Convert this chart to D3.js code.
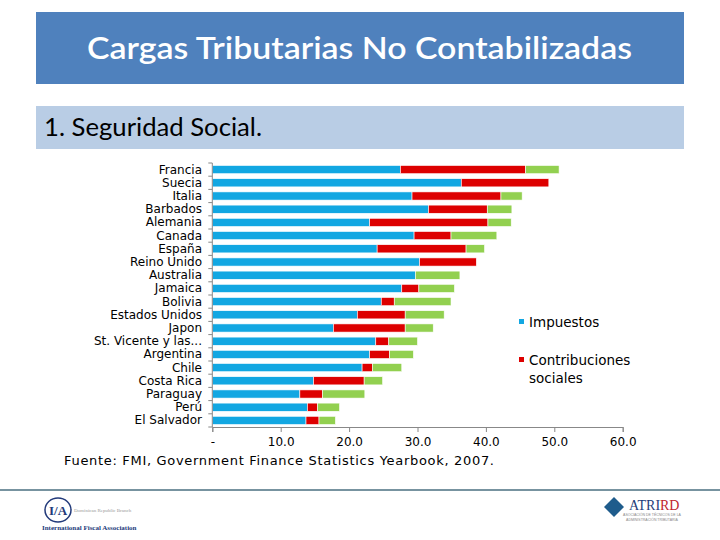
<!DOCTYPE html>
<html><head><meta charset="utf-8">
<script src="https://cdn.jsdelivr.net/npm/d3@7"></script>
<style>body{margin:0;background:#fff}svg{display:block}</style>
</head><body>
<script>
const categories = ["Francia","Suecia","Italia","Barbados","Alemania","Canada","España","Reino Unido","Australia","Jamaica","Bolivia","Estados Unidos","Japon","St. Vicente y las...","Argentina","Chile","Costa Rica","Paraguay","Perú","El Salvador"];
const impuestos =      [27.5,36.4,29.2,31.6,23.0,29.5,24.1,30.3,29.7,27.7,24.7,21.2,17.7,23.9,23.0,21.9,14.8,12.8,13.9,13.7];
const contribuciones = [18.3,12.8,13.0, 8.6,17.3, 5.4,13.0, 8.3, 0.0, 2.5, 1.9, 7.0,10.5, 1.9, 2.9, 1.5, 7.4, 3.3, 1.5, 1.9];
const otros =          [ 4.9, 0.0, 3.1, 3.6, 3.4, 6.7, 2.7, 0.0, 6.5, 5.2, 8.3, 5.7, 4.1, 4.2, 3.5, 4.3, 2.7, 6.2, 3.2, 2.4];
const xTicks = [0,10,20,30,40,50,60];
const seriesNames = ["Impuestos","Contribuciones sociales","Otros"];
const colors = ["#12a7e2","#dd0000","#92d050"];

const W=720,H=540;
const svg=d3.select("body").append("svg").attr("width",W).attr("height",H);
const font="DejaVu Sans, Verdana, sans-serif";

// header boxes
svg.append("rect").attr("x",36).attr("y",12).attr("width",648).attr("height",72).attr("fill","#4f81bd");
svg.append("text").attr("x",87).attr("y",59).attr("fill","#fff")
  .attr("font-family","Lato, 'Open Sans', sans-serif").attr("font-size",30).attr("font-weight",600)
  .attr("textLength",545).attr("lengthAdjust","spacingAndGlyphs")
  .text("Cargas Tributarias No Contabilizadas");
svg.append("rect").attr("x",36).attr("y",106).attr("width",648).attr("height",43).attr("fill","#b9cde5");
svg.append("text").attr("x",44).attr("y",136).attr("fill","#000")
  .attr("font-family","Lato, 'Open Sans', sans-serif").attr("font-size",25)
  .attr("textLength",218).attr("lengthAdjust","spacingAndGlyphs")
  .text("1. Seguridad Social.");

// scales
const x=d3.scaleLinear().domain([0,60]).range([212.3,622.7]);
const y=d3.scaleBand().domain(categories).range([163,427]).paddingInner(0.38).paddingOuter(0.19);

const data=categories.map((c,i)=>({cat:c,Impuestos:impuestos[i],"Contribuciones sociales":contribuciones[i],Otros:otros[i]}));
const stack=d3.stack().keys(seriesNames)(data);

const g=svg.append("g");
g.selectAll("g.s").data(stack).join("g").attr("fill",(d,i)=>colors[i])
 .selectAll("rect").data(d=>d).join("rect")
 .attr("x",d=>x(d[0])).attr("width",d=>Math.max(0,x(d[1])-x(d[0])))
 .attr("y",d=>y(d.data.cat)).attr("height",y.bandwidth())
 .attr("stroke","#fff").attr("stroke-width",0.6);

// y axis
const ya=svg.append("g").attr("transform","translate(212.3,0)");
ya.append("line").attr("x1",0).attr("x2",0).attr("y1",163).attr("y2",427).attr("stroke","#888");
d3.range(categories.length+1).forEach(i=>{
  const yy=163+i*(264/categories.length);
  ya.append("line").attr("x1",-4).attr("x2",0).attr("y1",yy).attr("y2",yy).attr("stroke","#888");
});
svg.append("g").selectAll("text").data(categories).join("text")
  .attr("x",202).attr("y",d=>y(d)+y.bandwidth()/2+4).attr("text-anchor","end")
  .attr("font-family",font).attr("font-size",12).attr("fill","#000").text(d=>d);

// x axis
const xa=svg.append("g").attr("transform","translate(0,427)")
  .call(d3.axisBottom(x).tickValues(xTicks).tickSize(5).tickFormat(d=>d===0?"-":d3.format(".1f")(d)));
xa.select(".domain").attr("stroke","#888");
xa.selectAll(".tick line").attr("stroke","#888");
xa.selectAll(".tick text").attr("font-family",font).attr("font-size",12).attr("fill","#000").attr("dy","0.95em");

// legend
const leg=[{c:colors[0],y:322,lines:["Impuestos"]},{c:colors[1],y:360,lines:["Contribuciones","sociales"]}];
leg.forEach(l=>{
  svg.append("rect").attr("x",519).attr("y",l.y-3).attr("width",5).attr("height",5).attr("fill",l.c);
  l.lines.forEach((t,j)=>svg.append("text").attr("x",529).attr("y",l.y+5+j*18).attr("font-family",font).attr("font-size",13.5).attr("fill","#000").text(t));
});

// source
svg.append("text").attr("x",64).attr("y",465).attr("font-family",font).attr("font-size",13).attr("fill","#000")
  .attr("textLength",430).attr("lengthAdjust","spacing")
  .text("Fuente: FMI, Government Finance Statistics Yearbook, 2007.");

// bottom line
svg.append("line").attr("x1",0).attr("x2",720).attr("y1",490).attr("y2",490).attr("stroke","#4a6f80").attr("stroke-width",1.5);

// left logo
const ll=svg.append("g");
ll.append("ellipse").attr("cx",58).attr("cy",510).attr("rx",13).attr("ry",12).attr("fill","none").attr("stroke","#223a7a").attr("stroke-width",1.5);
ll.append("text").attr("x",58).attr("y",515).attr("text-anchor","middle").attr("font-family","Liberation Serif, serif").attr("font-size",13).attr("font-weight","bold").attr("fill","#223a7a").text("I/A");
ll.append("text").attr("x",74).attr("y",512).attr("font-family","Liberation Serif, serif").attr("font-size",5).attr("fill","#999").text("Dominican Republic Branch");
ll.append("text").attr("x",42).attr("y",530).attr("font-family","Liberation Serif, serif").attr("font-size",7).attr("fill","#223a7a").attr("font-weight","bold").text("International Fiscal Association");

// right logo
const rl=svg.append("g");
rl.append("path").attr("d","M604,507 L614,497 L624,507 L614,517 Z").attr("fill","#1f5c8c");
rl.append("text").attr("x",629).attr("y",510).attr("font-family","Liberation Serif, serif").attr("font-size",14).attr("fill","#1f3d7a").text("ATRI");
rl.append("text").attr("x",660).attr("y",510).attr("font-family","Liberation Serif, serif").attr("font-size",14).attr("fill","#c0262d").text("RD");
rl.append("text").attr("x",652).attr("y",516).attr("text-anchor","middle").attr("font-family","sans-serif").attr("font-size",3.5).attr("fill","#888").text("ASOCIACIÓN DE TÉCNICOS DE LA");
rl.append("text").attr("x",652).attr("y",521).attr("text-anchor","middle").attr("font-family","sans-serif").attr("font-size",3.5).attr("fill","#888").text("ADMINISTRACIÓN TRIBUTARIA");
</script>
</body></html>
